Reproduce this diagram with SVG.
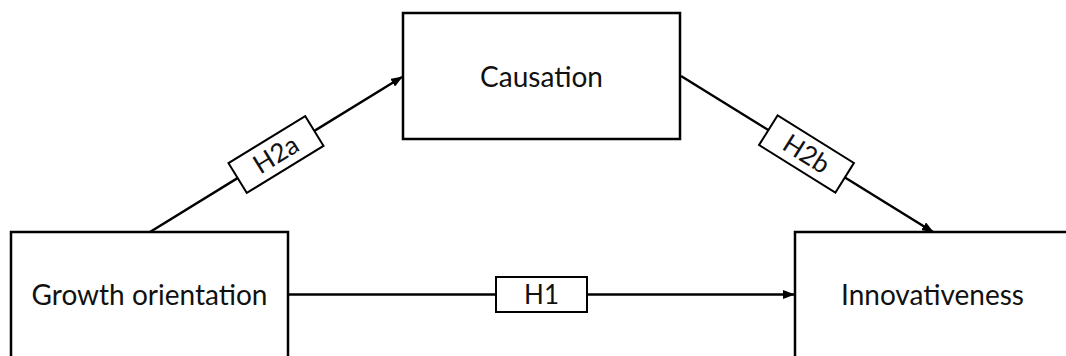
<svg xmlns="http://www.w3.org/2000/svg" width="1066" height="356" viewBox="0 0 1066 356">
<style>
.box{fill:#fff;stroke:#000;stroke-width:2.5}
.lbl{fill:#fff;stroke:#000;stroke-width:2}
.edge{stroke:#000;stroke-width:2.5;fill:none}
.t{font-family:Lato,"Liberation Sans",sans-serif;font-size:28px;fill:#111;text-anchor:middle}
.s{font-family:Lato,"Liberation Sans",sans-serif;font-size:26px;fill:#111;text-anchor:middle}
</style>
<defs>
<marker id="ah" markerWidth="12" markerHeight="9" refX="11" refY="4.5" orient="auto" markerUnits="userSpaceOnUse">
<path d="M0,0 L12,4.5 L0,9 Z" fill="#000"/>
</marker>
</defs>
<rect width="1066" height="356" fill="#fff"/>
<g id="connectors">
<line class="edge" x1="150" y1="232" x2="402" y2="77" marker-end="url(#ah)"/>
<line class="edge" x1="681" y1="76" x2="933" y2="232" marker-end="url(#ah)"/>
<line class="edge" x1="289" y1="294.5" x2="794" y2="294.5" marker-end="url(#ah)"/>
<g transform="translate(276,154.5) rotate(-31.5)">
<rect class="lbl" x="-45" y="-17.5" width="90" height="35"/>
<text class="s" x="0" y="9">H2a</text>
</g>
<g transform="translate(806.5,154) rotate(32)">
<rect class="lbl" x="-45" y="-17.5" width="90" height="35"/>
<text class="s" x="0" y="9">H2b</text>
</g>
<g transform="translate(541.5,294.5)">
<rect class="lbl" x="-45.5" y="-17.5" width="91" height="35"/>
<text class="s" x="0" y="9">H1</text>
</g>
</g>
<g id="growth">
<rect class="box" x="11" y="232" width="277" height="140"/>
<text class="t" x="149.5" y="305">Growth orientation</text>
</g>
<g id="causation">
<rect class="box" x="403" y="13" width="277" height="126"/>
<text class="t" x="541.5" y="87">Causation</text>
</g>
<g id="innovativeness">
<rect class="box" x="795" y="232" width="277" height="140"/>
<text class="t" x="932.5" y="305">Innovativeness</text>
</g>
</svg>
